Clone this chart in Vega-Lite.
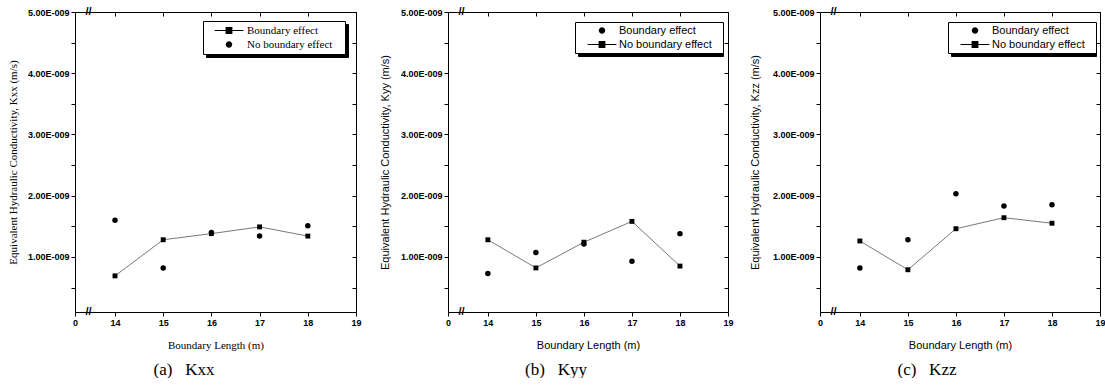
{
  "$schema": "https://vega.github.io/schema/vega-lite/v6.json",
  "background": "white",
  "padding": {"left": 7, "top": 6, "right": 0, "bottom": 0},
  "bounds": "flush",
  "spacing": 92,
  "datasets": {
    "kxx": [
      {"L": 14, "K": 6.9e-10, "series": "Boundary effect"},
      {"L": 15, "K": 1.28e-9, "series": "Boundary effect"},
      {"L": 16, "K": 1.38e-9, "series": "Boundary effect"},
      {"L": 17, "K": 1.49e-9, "series": "Boundary effect"},
      {"L": 18, "K": 1.34e-9, "series": "Boundary effect"},
      {"L": 14, "K": 1.60e-9, "series": "No boundary effect"},
      {"L": 15, "K": 8.2e-10, "series": "No boundary effect"},
      {"L": 16, "K": 1.40e-9, "series": "No boundary effect"},
      {"L": 17, "K": 1.34e-9, "series": "No boundary effect"},
      {"L": 18, "K": 1.51e-9, "series": "No boundary effect"}
    ],
    "kyy": [
      {"L": 14, "K": 7.3e-10, "series": "Boundary effect"},
      {"L": 15, "K": 1.07e-9, "series": "Boundary effect"},
      {"L": 16, "K": 1.21e-9, "series": "Boundary effect"},
      {"L": 17, "K": 9.3e-10, "series": "Boundary effect"},
      {"L": 18, "K": 1.38e-9, "series": "Boundary effect"},
      {"L": 14, "K": 1.28e-9, "series": "No boundary effect"},
      {"L": 15, "K": 8.2e-10, "series": "No boundary effect"},
      {"L": 16, "K": 1.24e-9, "series": "No boundary effect"},
      {"L": 17, "K": 1.58e-9, "series": "No boundary effect"},
      {"L": 18, "K": 8.5e-10, "series": "No boundary effect"}
    ],
    "kzz": [
      {"L": 14, "K": 8.2e-10, "series": "Boundary effect"},
      {"L": 15, "K": 1.28e-9, "series": "Boundary effect"},
      {"L": 16, "K": 2.03e-9, "series": "Boundary effect"},
      {"L": 17, "K": 1.83e-9, "series": "Boundary effect"},
      {"L": 18, "K": 1.85e-9, "series": "Boundary effect"},
      {"L": 14, "K": 1.26e-9, "series": "No boundary effect"},
      {"L": 15, "K": 7.9e-10, "series": "No boundary effect"},
      {"L": 16, "K": 1.46e-9, "series": "No boundary effect"},
      {"L": 17, "K": 1.64e-9, "series": "No boundary effect"},
      {"L": 18, "K": 1.55e-9, "series": "No boundary effect"}
    ],
    "breaks": [
      {"L": 13.45, "K": 5e-9},
      {"L": 13.45, "K": 1e-10}
    ]
  },
  "hconcat": [
    {
      "width": 281, "height": 300,
      "title": {"text": "(a)\u00a0\u00a0\u00a0Kxx", "orient": "bottom", "anchor": "middle", "frame": "bounds", "font": "Liberation Serif", "fontSize": 17, "fontWeight": "normal", "offset": 12, "color": "black"},
      "resolve": {"axis": {"x": "independent", "y": "independent"}, "scale": {"shape": "independent"}, "legend": {"shape": "independent"}},
      "layer": [
        {
          "data": {"name": "kxx"},
          "transform": [{"filter": "datum.series == 'Boundary effect'"}],
          "mark": {"type": "line", "color": "#555555", "strokeWidth": 0.8},
          "encoding": {
            "x": {"field": "L", "type": "quantitative", "scale": {"domain": [13.17, 19], "nice": false, "zero": false},
              "axis": {"title": "Boundary Length (m)", "values": [13.17, 14, 15, 16, 17, 18, 19], "labelExpr": "datum.value < 13.5 ? '0' : format(datum.value, 'd')", "labelFont": "Liberation Sans", "labelFontSize": 9, "labelFontWeight": "bold", "labelPadding": 2, "tickSize": 4, "labelFlush": false, "labelOverlap": false, "titleFont": "Liberation Serif", "titleFontSize": 11, "titleFontWeight": "normal", "titlePadding": 12}},
            "y": {"field": "K", "type": "quantitative", "scale": {"domain": [1e-10, 5e-9], "nice": false, "zero": false},
              "axis": {"title": "Equivalent Hydraulic Conductivity, Kxx (m/s)", "values": [5e-10, 1e-9, 1.5e-9, 2e-9, 2.5e-9, 3e-9, 3.5e-9, 4e-9, 4.5e-9, 5e-9], "labelExpr": "round(datum.value*2e9) % 2 == 0 ? format(datum.value*1e9, '.2f') + 'E-009' : ''", "labelFont": "Liberation Sans", "labelFontSize": 9, "labelFontWeight": "bold", "labelPadding": 2, "tickSize": 4, "labelFlush": false, "labelOverlap": false, "titleFont": "Liberation Serif", "titleFontSize": 11, "titleFontWeight": "normal", "titleX": -62, "titleY": 150, "titleAngle": -90, "titleAlign": "center", "titleBaseline": "middle"}}
          }
        },
        {
          "data": {"name": "kxx"},
          "transform": [{"filter": "datum.series == 'Boundary effect'"}],
          "mark": {"type": "point", "shape": "square", "filled": true, "color": "black", "size": 24, "opacity": 1},
          "encoding": {
            "x": {"field": "L", "type": "quantitative", "axis": null},
            "y": {"field": "K", "type": "quantitative", "axis": null}
          }
        },
        {
          "data": {"name": "kxx"},
          "transform": [{"filter": "datum.series == 'No boundary effect'"}],
          "mark": {"type": "point", "shape": "circle", "filled": true, "color": "black", "size": 30, "opacity": 1},
          "encoding": {
            "x": {"field": "L", "type": "quantitative", "axis": null},
            "y": {"field": "K", "type": "quantitative", "axis": null}
          }
        },
        {
          "data": {"name": "kxx"},
          "transform": [{"filter": "false"}],
          "mark": {"type": "point", "filled": true, "color": "black", "strokeWidth": 0, "opacity": 1},
          "encoding": {
            "shape": {"field": "series", "type": "nominal",
              "scale": {"domain": ["Boundary effect", "No boundary effect"], "range": ["M-3.6,-0.1H-0.85V-0.85H0.85V-0.1H3.6V0.1H0.85V0.85H-0.85V0.1H-3.6Z", "M0.8,0A0.8,0.8,0,1,1,-0.8,0A0.8,0.8,0,1,1,0.8,0Z"]},
              "legend": {"orient": "none", "legendX": 128, "legendY": 9, "title": null, "padding": 4, "strokeColor": "black", "fillColor": "white", "cornerRadius": 0, "symbolSize": 64, "symbolOffset": 16.5, "labelOffset": 12.5, "labelAlign": "left", "labelFont": "Liberation Serif", "labelFontSize": 11, "labelColor": "black", "rowPadding": 2, "labelExpr": "datum.label + '\u2800'", "zindex": 2, "symbolStrokeWidth": 0, "symbolFillColor": "black", "symbolOpacity": 1}}
          }
        },
        {
          "data": {"name": "kxx"},
          "transform": [{"filter": "false"}],
          "mark": {"type": "point", "filled": true, "color": "black", "strokeWidth": 0, "opacity": 1},
          "encoding": {
            "shape": {"field": "series", "type": "nominal",
              "scale": {"domain": ["Boundary effect", "No boundary effect"], "range": ["M-3.6,-0.1H-0.85V-0.85H0.85V-0.1H3.6V0.1H0.85V0.85H-0.85V0.1H-3.6Z", "M0.8,0A0.8,0.8,0,1,1,-0.8,0A0.8,0.8,0,1,1,0.8,0Z"]},
              "legend": {"orient": "none", "legendX": 131, "legendY": 12, "title": null, "padding": 4, "strokeColor": "black", "fillColor": "black", "cornerRadius": 0, "symbolSize": 64, "symbolOffset": 16.5, "labelOffset": 107.5, "labelAlign": "left", "labelFont": "Liberation Serif", "labelFontSize": 0, "labelColor": "black", "rowPadding": 7, "labelExpr": "''", "zindex": 1, "symbolStrokeWidth": 0, "symbolFillColor": "black", "symbolOpacity": 1}}
          }
        },
        {
          "data": {"name": "breaks"},
          "mark": {"type": "text", "text": "//", "font": "Liberation Sans", "fontSize": 11, "fontWeight": "bold", "color": "black", "align": "center", "baseline": "middle"},
          "encoding": {
            "x": {"field": "L", "type": "quantitative", "axis": {"orient": "top", "values": [14, 15, 16, 17, 18, 19], "labels": false, "title": null, "tickSize": -4, "domain": true}},
            "y": {"field": "K", "type": "quantitative", "axis": {"orient": "right", "values": [5e-10, 1e-9, 1.5e-9, 2e-9, 2.5e-9, 3e-9, 3.5e-9, 4e-9, 4.5e-9, 5e-9], "labels": false, "title": null, "tickSize": -4, "domain": true}}
          }
        }
      ]
    },
    {
      "width": 280, "height": 300,
      "title": {"text": "(b)\u00a0\u00a0\u00a0Kyy", "orient": "bottom", "anchor": "middle", "frame": "bounds", "font": "Liberation Serif", "fontSize": 17, "fontWeight": "normal", "offset": 12, "color": "black"},
      "resolve": {"axis": {"x": "independent", "y": "independent"}, "scale": {"shape": "independent"}, "legend": {"shape": "independent"}},
      "layer": [
        {
          "data": {"name": "kyy"},
          "transform": [{"filter": "datum.series == 'No boundary effect'"}],
          "mark": {"type": "line", "color": "#555555", "strokeWidth": 0.8},
          "encoding": {
            "x": {"field": "L", "type": "quantitative", "scale": {"domain": [13.17, 19], "nice": false, "zero": false},
              "axis": {"title": "Boundary Length (m)", "values": [13.17, 14, 15, 16, 17, 18, 19], "labelExpr": "datum.value < 13.5 ? '0' : format(datum.value, 'd')", "labelFont": "Liberation Sans", "labelFontSize": 9, "labelFontWeight": "bold", "labelPadding": 2, "tickSize": 4, "labelFlush": false, "labelOverlap": false, "titleFont": "Liberation Sans", "titleFontSize": 11, "titleFontWeight": "normal", "titlePadding": 12}},
            "y": {"field": "K", "type": "quantitative", "scale": {"domain": [1e-10, 5e-9], "nice": false, "zero": false},
              "axis": {"title": "Equivalent Hydraulic Conductivity, Kyy (m/s)", "values": [5e-10, 1e-9, 1.5e-9, 2e-9, 2.5e-9, 3e-9, 3.5e-9, 4e-9, 4.5e-9, 5e-9], "labelExpr": "round(datum.value*2e9) % 2 == 0 ? format(datum.value*1e9, '.2f') + 'E-009' : ''", "labelFont": "Liberation Sans", "labelFontSize": 9, "labelFontWeight": "bold", "labelPadding": 2, "tickSize": 4, "labelFlush": false, "labelOverlap": false, "titleFont": "Liberation Sans", "titleFontSize": 11, "titleFontWeight": "normal", "titleX": -63, "titleY": 150, "titleAngle": -90, "titleAlign": "center", "titleBaseline": "middle"}}
          }
        },
        {
          "data": {"name": "kyy"},
          "transform": [{"filter": "datum.series == 'No boundary effect'"}],
          "mark": {"type": "point", "shape": "square", "filled": true, "color": "black", "size": 24, "opacity": 1},
          "encoding": {
            "x": {"field": "L", "type": "quantitative", "axis": null},
            "y": {"field": "K", "type": "quantitative", "axis": null}
          }
        },
        {
          "data": {"name": "kyy"},
          "transform": [{"filter": "datum.series == 'Boundary effect'"}],
          "mark": {"type": "point", "shape": "circle", "filled": true, "color": "black", "size": 30, "opacity": 1},
          "encoding": {
            "x": {"field": "L", "type": "quantitative", "axis": null},
            "y": {"field": "K", "type": "quantitative", "axis": null}
          }
        },
        {
          "data": {"name": "kyy"},
          "transform": [{"filter": "false"}],
          "mark": {"type": "point", "filled": true, "color": "black", "strokeWidth": 0, "opacity": 1},
          "encoding": {
            "shape": {"field": "series", "type": "nominal",
              "scale": {"domain": ["Boundary effect", "No boundary effect"], "range": ["M0.8,0A0.8,0.8,0,1,1,-0.8,0A0.8,0.8,0,1,1,0.8,0Z", "M-3.6,-0.1H-0.85V-0.85H0.85V-0.1H3.6V0.1H0.85V0.85H-0.85V0.1H-3.6Z"]},
              "legend": {"orient": "none", "legendX": 127, "legendY": 10, "title": null, "padding": 3, "strokeColor": "black", "fillColor": "white", "cornerRadius": 0, "symbolSize": 64, "symbolOffset": 18.5, "labelOffset": 11.5, "labelAlign": "left", "labelFont": "Liberation Sans", "labelFontSize": 11, "labelColor": "black", "rowPadding": 2, "labelExpr": "datum.label + '\u2800'", "zindex": 2, "symbolStrokeWidth": 0, "symbolFillColor": "black", "symbolOpacity": 1}}
          }
        },
        {
          "data": {"name": "kyy"},
          "transform": [{"filter": "false"}],
          "mark": {"type": "point", "filled": true, "color": "black", "strokeWidth": 0, "opacity": 1},
          "encoding": {
            "shape": {"field": "series", "type": "nominal",
              "scale": {"domain": ["Boundary effect", "No boundary effect"], "range": ["M0.8,0A0.8,0.8,0,1,1,-0.8,0A0.8,0.8,0,1,1,0.8,0Z", "M-3.6,-0.1H-0.85V-0.85H0.85V-0.1H3.6V0.1H0.85V0.85H-0.85V0.1H-3.6Z"]},
              "legend": {"orient": "none", "legendX": 130, "legendY": 13, "title": null, "padding": 3, "strokeColor": "black", "fillColor": "black", "cornerRadius": 0, "symbolSize": 64, "symbolOffset": 18.5, "labelOffset": 110.5, "labelAlign": "left", "labelFont": "Liberation Sans", "labelFontSize": 0, "labelColor": "black", "rowPadding": 7, "labelExpr": "''", "zindex": 1, "symbolStrokeWidth": 0, "symbolFillColor": "black", "symbolOpacity": 1}}
          }
        },
        {
          "data": {"name": "breaks"},
          "mark": {"type": "text", "text": "//", "font": "Liberation Sans", "fontSize": 11, "fontWeight": "bold", "color": "black", "align": "center", "baseline": "middle"},
          "encoding": {
            "x": {"field": "L", "type": "quantitative", "axis": {"orient": "top", "values": [14, 15, 16, 17, 18, 19], "labels": false, "title": null, "tickSize": -4, "domain": true}},
            "y": {"field": "K", "type": "quantitative", "axis": {"orient": "right", "values": [5e-10, 1e-9, 1.5e-9, 2e-9, 2.5e-9, 3e-9, 3.5e-9, 4e-9, 4.5e-9, 5e-9], "labels": false, "title": null, "tickSize": -4, "domain": true}}
          }
        }
      ]
    },
    {
      "width": 280, "height": 300,
      "title": {"text": "(c)\u00a0\u00a0\u00a0Kzz", "orient": "bottom", "anchor": "middle", "frame": "bounds", "font": "Liberation Serif", "fontSize": 17, "fontWeight": "normal", "offset": 12, "color": "black"},
      "resolve": {"axis": {"x": "independent", "y": "independent"}, "scale": {"shape": "independent"}, "legend": {"shape": "independent"}},
      "layer": [
        {
          "data": {"name": "kzz"},
          "transform": [{"filter": "datum.series == 'No boundary effect'"}],
          "mark": {"type": "line", "color": "#555555", "strokeWidth": 0.8},
          "encoding": {
            "x": {"field": "L", "type": "quantitative", "scale": {"domain": [13.17, 19], "nice": false, "zero": false},
              "axis": {"title": "Boundary Length (m)", "values": [13.17, 14, 15, 16, 17, 18, 19], "labelExpr": "datum.value < 13.5 ? '0' : format(datum.value, 'd')", "labelFont": "Liberation Sans", "labelFontSize": 9, "labelFontWeight": "bold", "labelPadding": 2, "tickSize": 4, "labelFlush": false, "labelOverlap": false, "titleFont": "Liberation Sans", "titleFontSize": 11, "titleFontWeight": "normal", "titlePadding": 12}},
            "y": {"field": "K", "type": "quantitative", "scale": {"domain": [1e-10, 5e-9], "nice": false, "zero": false},
              "axis": {"title": "Equivalent Hydraulic Conductivity, Kzz (m/s)", "values": [5e-10, 1e-9, 1.5e-9, 2e-9, 2.5e-9, 3e-9, 3.5e-9, 4e-9, 4.5e-9, 5e-9], "labelExpr": "round(datum.value*2e9) % 2 == 0 ? format(datum.value*1e9, '.2f') + 'E-009' : ''", "labelFont": "Liberation Sans", "labelFontSize": 9, "labelFontWeight": "bold", "labelPadding": 2, "tickSize": 4, "labelFlush": false, "labelOverlap": false, "titleFont": "Liberation Sans", "titleFontSize": 11, "titleFontWeight": "normal", "titleX": -65, "titleY": 150, "titleAngle": -90, "titleAlign": "center", "titleBaseline": "middle"}}
          }
        },
        {
          "data": {"name": "kzz"},
          "transform": [{"filter": "datum.series == 'No boundary effect'"}],
          "mark": {"type": "point", "shape": "square", "filled": true, "color": "black", "size": 24, "opacity": 1},
          "encoding": {
            "x": {"field": "L", "type": "quantitative", "axis": null},
            "y": {"field": "K", "type": "quantitative", "axis": null}
          }
        },
        {
          "data": {"name": "kzz"},
          "transform": [{"filter": "datum.series == 'Boundary effect'"}],
          "mark": {"type": "point", "shape": "circle", "filled": true, "color": "black", "size": 30, "opacity": 1},
          "encoding": {
            "x": {"field": "L", "type": "quantitative", "axis": null},
            "y": {"field": "K", "type": "quantitative", "axis": null}
          }
        },
        {
          "data": {"name": "kzz"},
          "transform": [{"filter": "false"}],
          "mark": {"type": "point", "filled": true, "color": "black", "strokeWidth": 0, "opacity": 1},
          "encoding": {
            "shape": {"field": "series", "type": "nominal",
              "scale": {"domain": ["Boundary effect", "No boundary effect"], "range": ["M0.8,0A0.8,0.8,0,1,1,-0.8,0A0.8,0.8,0,1,1,0.8,0Z", "M-3.6,-0.1H-0.85V-0.85H0.85V-0.1H3.6V0.1H0.85V0.85H-0.85V0.1H-3.6Z"]},
              "legend": {"orient": "none", "legendX": 128, "legendY": 10, "title": null, "padding": 3, "strokeColor": "black", "fillColor": "white", "cornerRadius": 0, "symbolSize": 64, "symbolOffset": 18.5, "labelOffset": 11.5, "labelAlign": "left", "labelFont": "Liberation Sans", "labelFontSize": 11, "labelColor": "black", "rowPadding": 2, "labelExpr": "datum.label + '\u2800'", "zindex": 2, "symbolStrokeWidth": 0, "symbolFillColor": "black", "symbolOpacity": 1}}
          }
        },
        {
          "data": {"name": "kzz"},
          "transform": [{"filter": "false"}],
          "mark": {"type": "point", "filled": true, "color": "black", "strokeWidth": 0, "opacity": 1},
          "encoding": {
            "shape": {"field": "series", "type": "nominal",
              "scale": {"domain": ["Boundary effect", "No boundary effect"], "range": ["M0.8,0A0.8,0.8,0,1,1,-0.8,0A0.8,0.8,0,1,1,0.8,0Z", "M-3.6,-0.1H-0.85V-0.85H0.85V-0.1H3.6V0.1H0.85V0.85H-0.85V0.1H-3.6Z"]},
              "legend": {"orient": "none", "legendX": 131, "legendY": 13, "title": null, "padding": 3, "strokeColor": "black", "fillColor": "black", "cornerRadius": 0, "symbolSize": 64, "symbolOffset": 18.5, "labelOffset": 110.5, "labelAlign": "left", "labelFont": "Liberation Sans", "labelFontSize": 0, "labelColor": "black", "rowPadding": 7, "labelExpr": "''", "zindex": 1, "symbolStrokeWidth": 0, "symbolFillColor": "black", "symbolOpacity": 1}}
          }
        },
        {
          "data": {"name": "breaks"},
          "mark": {"type": "text", "text": "//", "font": "Liberation Sans", "fontSize": 11, "fontWeight": "bold", "color": "black", "align": "center", "baseline": "middle"},
          "encoding": {
            "x": {"field": "L", "type": "quantitative", "axis": {"orient": "top", "values": [14, 15, 16, 17, 18, 19], "labels": false, "title": null, "tickSize": -4, "domain": true}},
            "y": {"field": "K", "type": "quantitative", "axis": {"orient": "right", "values": [5e-10, 1e-9, 1.5e-9, 2e-9, 2.5e-9, 3e-9, 3.5e-9, 4e-9, 4.5e-9, 5e-9], "labels": false, "title": null, "tickSize": -4, "domain": true}}
          }
        }
      ]
    }
  ],
  "config": {
    "view": {"stroke": null},
    "axis": {"grid": false, "domainColor": "black", "tickColor": "black", "labelColor": "black", "titleColor": "black", "domainWidth": 1, "tickWidth": 1}
  }
}
